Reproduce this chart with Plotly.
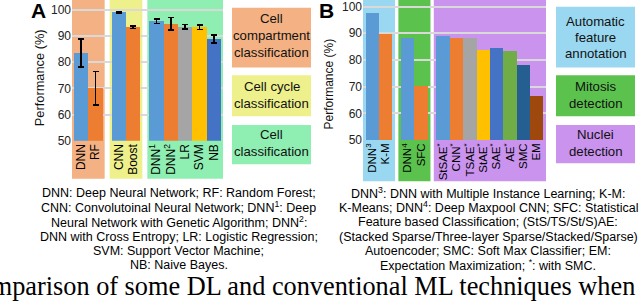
import plotly.graph_objects as go

# ---------------- data ----------------
a_labels = ["DNN", "RF", "CNN", "Boost", "DNN<sup>1</sup>", "DNN<sup>2</sup>", "LR", "SVM", "NB"]
a_values = [83.5, 70.0, 99.0, 93.3, 95.6, 94.6, 93.5, 93.4, 88.9]
a_errors = [5.3, 6.4, 0.3, 0.5, 0.9, 2.4, 0.9, 0.9, 1.5]
a_colors = ["#5B9BD5", "#ED7D31", "#5B9BD5", "#ED7D31", "#5B9BD5", "#ED7D31", "#A5A5A5", "#FFC000", "#4472C4"]
a_groups = [2, 2, 5]
a_group_names = [["Cell", "compartment", "classification"], ["Cell cycle", "classification"], ["Cell", "classification"]]
a_group_colors = ["#F4B183", "#EEF08C", "#8FEEB1"]

b_labels = ["DNN<sup>3</sup>", "K-M", "DNN<sup>4</sup>", "SFC", "StSAE<sup>*</sup>", "CNN<sup>*</sup>",
            "TSAE<sup>*</sup>", "StAE<sup>*</sup>", "SAE<sup>*</sup>", "AE<sup>*</sup>", "SMC", "EM"]
b_values = [97.6, 89.6, 88.1, 70.1, 88.8, 88.4, 88.2, 83.9, 84.6, 83.5, 78.0, 66.4]
b_colors = ["#5B9BD5", "#ED7D31", "#5B9BD5", "#ED7D31", "#5B9BD5", "#ED7D31", "#A5A5A5", "#FFC000",
            "#4472C4", "#70AD47", "#255E91", "#9E480E"]
b_groups = [2, 2, 8]
b_group_names = [["Automatic", "feature", "annotation"], ["Mitosis", "detection"], ["Nuclei", "detection"]]
b_group_colors = ["#99D8F0", "#5CC24E", "#C993EE"]

a_notes = ["DNN: Deep Neural Network; RF: Random Forest;",
           "CNN: Convolutoinal Neural Network; DNN<sup>1</sup>: Deep",
           "Neural Network with Genetic Algorithm; DNN<sup>2</sup>:",
           "DNN with Cross Entropy; LR: Logistic Regression;",
           "SVM: Support Vector Machine;",
           "NB: Naive Bayes."]
b_notes = ["DNN<sup>3</sup>: DNN with Multiple Instance Learning; K-M:",
           "K-Means; DNN<sup>4</sup>: Deep Maxpool CNN; SFC: Statistical",
           "Feature based Classification; (StS/TS/St/S)AE:",
           "(Stacked Sparse/Three-layer Sparse/Stacked/Sparse)",
           "Autoencoder; SMC: Soft Max Classifier; EM:",
           "Expectation Maximization; <sup>*</sup>: with SMC."]
caption = "Comparison of some DL and conventional ML techniques when"

# ---------------- layout helpers ----------------
W, H = 640, 308
FONT = "Liberation Sans, Arial, sans-serif"


def px(x):
    return x / W


def py(y):
    return 1 - y / H


def positions(groups, pad, gap):
    centers, spans = [], []
    cur = 0.0
    for n in groups:
        start = cur
        cur += pad
        for _ in range(n):
            centers.append(cur + 0.5)
            cur += 1
        cur += pad
        spans.append((start, cur))
        cur += gap
    return centers, spans, cur - gap


a_x, a_spans, a_total = positions(a_groups, 0.14, 0.35)
b_x, b_spans, b_total = positions(b_groups, 0.2, 0.25)

A_DOM = (72, 223)
B_DOM = (363, 546)
A_BOT, B_BOT = 144, 143.3
A_TOP_VAL, B_TOP_VAL = 103.75, 102.45

fig = go.Figure()
fig.add_trace(go.Bar(x=a_x, y=a_values, width=1.0, marker=dict(color=a_colors, line=dict(width=0)),
                     error_y=dict(type="data", array=a_errors, color="black", thickness=1.6, width=3),
                     xaxis="x", yaxis="y", showlegend=False, hoverinfo="skip"))
fig.add_trace(go.Bar(x=b_x, y=b_values, width=1.0, marker=dict(color=b_colors, line=dict(width=0)),
                     xaxis="x2", yaxis="y2", showlegend=False, hoverinfo="skip"))

shapes = []
annos = []


def unit_to_px(u, total, dom):
    return dom[0] + u / total * (dom[1] - dom[0])


for (s, e), col in zip(a_spans, a_group_colors):
    shapes.append(dict(type="rect", xref="paper", yref="paper", layer="below",
                       x0=px(unit_to_px(s, a_total, A_DOM)), x1=px(unit_to_px(e, a_total, A_DOM)),
                       y0=py(183), y1=py(0), fillcolor=col, line=dict(width=0)))
for (s, e), col in zip(b_spans, b_group_colors):
    shapes.append(dict(type="rect", xref="paper", yref="paper", layer="below",
                       x0=px(unit_to_px(s, b_total, B_DOM)), x1=px(unit_to_px(e, b_total, B_DOM)),
                       y0=py(185.5), y1=py(0), fillcolor=col, line=dict(width=0)))

# legend boxes
a_boxes = [(8, 69), (77, 119), (128, 168)]
b_boxes = [(7, 69), (77, 119), (128, 167)]
a_lines_y = [[19, 36.7, 53.3], [89, 106], [137.3, 155]]
b_lines_y = [[21.7, 38.3, 55], [88.3, 106], [137.3, 155]]
for boxes, lines_y, names, cols, (bx0, bx1) in [
        (a_boxes, a_lines_y, a_group_names, a_group_colors, (232, 311)),
        (b_boxes, b_lines_y, b_group_names, b_group_colors, (556, 635))]:
    for (y0, y1), ly, nm, col in zip(boxes, lines_y, names, cols):
        shapes.append(dict(type="rect", xref="paper", yref="paper", x0=px(bx0), x1=px(bx1),
                           y0=py(y1), y1=py(y0), fillcolor=col, line=dict(width=0)))
        for yy, t in zip(ly, nm):
            annos.append(dict(xref="paper", yref="paper", x=px((bx0 + bx1) / 2), y=py(yy), text=t,
                              showarrow=False, xanchor="center", yanchor="middle",
                              font=dict(family=FONT, size=13.2, color="#111")))

# panel letters
annos.append(dict(xref="paper", yref="paper", x=px(38.5), y=py(10.5), text="<b>A</b>", showarrow=False,
                  xanchor="center", yanchor="middle", font=dict(family=FONT, size=21, color="black")))
annos.append(dict(xref="paper", yref="paper", x=px(326), y=py(10.5), text="<b>B</b>", showarrow=False,
                  xanchor="center", yanchor="middle", font=dict(family=FONT, size=21, color="black")))

# y titles
annos.append(dict(xref="paper", yref="paper", x=px(39), y=py(80), text="Performance (%)", textangle=-90,
                  showarrow=False, xanchor="center", yanchor="middle", font=dict(family=FONT, size=12.8, color="#111")))
annos.append(dict(xref="paper", yref="paper", x=px(329), y=py(86.5), text="Performance (%)", textangle=-90,
                  showarrow=False, xanchor="center", yanchor="middle", font=dict(family=FONT, size=12, color="#111")))

# notes
note_y = [197, 212, 227, 242, 257, 271.5]
for notes, cx in [(a_notes, 178.5), (b_notes, 488)]:
    for yy, t in zip(note_y, notes):
        annos.append(dict(xref="paper", yref="paper", x=px(cx), y=py(yy), text=t, showarrow=False,
                          xanchor="center", yanchor="middle", font=dict(family=FONT, size=12.5, color="black")))

# caption (clipped at both edges like the reference crop)
annos.append(dict(xref="paper", yref="paper", x=px(637), y=py(308), text=caption, showarrow=False,
                  xanchor="right", yanchor="bottom", yshift=-2,
                  font=dict(family="Liberation Serif, Times New Roman, serif", size=26.3, color="black")))

grid = dict(showgrid=True, gridcolor="#D9D9D9", gridwidth=1.5, zeroline=False, showline=False,
            tickvals=[50, 60, 70, 80, 90, 100], ticks="", ticklabeloverflow="allow",
            tickfont=dict(family=FONT, size=12, color="#222"))
xax = dict(showgrid=False, zeroline=False, showline=False, ticks="", tickangle=-90)

fig.update_layout(
    width=W, height=H, margin=dict(l=0, r=0, t=0, b=0),
    paper_bgcolor="white", plot_bgcolor="rgba(0,0,0,0)",
    bargap=0, hovermode=False,
    xaxis=dict(domain=[px(A_DOM[0]), px(A_DOM[1])], range=[0, a_total], tickvals=a_x, ticktext=a_labels,
               anchor="y", tickfont=dict(family=FONT, size=12, color="black"), **xax),
    yaxis=dict(domain=[py(A_BOT), 1], range=[50, A_TOP_VAL], anchor="x", **grid),
    xaxis2=dict(domain=[px(B_DOM[0]), px(B_DOM[1])], range=[0, b_total], tickvals=b_x, ticktext=b_labels,
                anchor="y2", tickfont=dict(family=FONT, size=11.5, color="black"), **xax),
    yaxis2=dict(domain=[py(B_BOT), 1], range=[50, B_TOP_VAL], anchor="x2", **grid),
    shapes=shapes, annotations=annos,
)

fig.write_html("out.html", config={"displayModeBar": False},
               post_script="document.body.style.margin='0';")
